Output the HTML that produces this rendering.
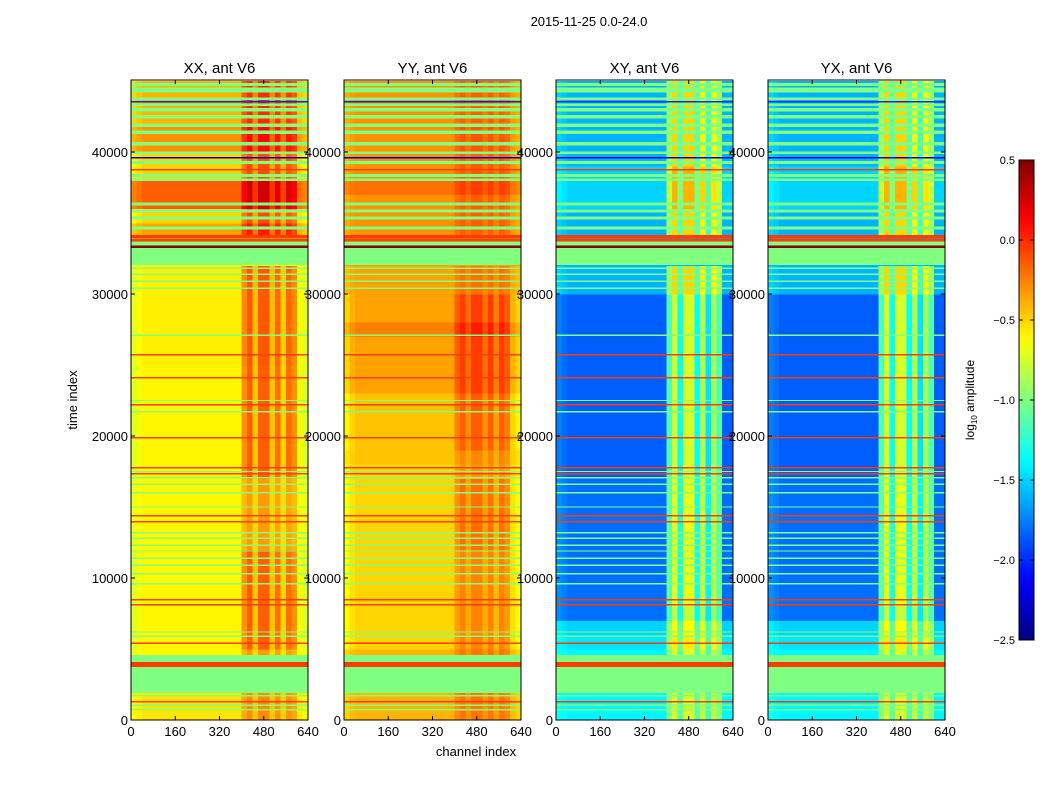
<!DOCTYPE html>
<html><head><meta charset="utf-8"><style>
body{margin:0;background:#fff;}
svg{display:block;font-family:"Liberation Sans","DejaVu Sans",sans-serif;}
</style></head><body>
<svg id="fig" width="1050" height="800" viewBox="0 0 1050 800" xmlns="http://www.w3.org/2000/svg">
<rect x="0" y="0" width="1050" height="800" fill="#fff"/>
<text x="589" y="26" font-size="13" text-anchor="middle">2015-11-25 0.0-24.0</text>
<text transform="translate(77,400) rotate(-90)" font-size="13" text-anchor="middle">time index</text>
<text x="476" y="756" font-size="13" text-anchor="middle">channel index</text>
<g id="panels"></g>
<g id="cbar"></g>
</svg>
<script>
// ---- data ----
const panelTitles = ["XX, ant V6", "YY, ant V6", "XY, ant V6", "YX, ant V6"];
const timeTicks = [0, 10000, 20000, 30000, 40000];
const chanTicks = [0, 160, 320, 480, 640];
const cbarTicks = [0.5, 0.0, -0.5, -1.0, -1.5, -2.0, -2.5];
const cbarLabels = ["0.5", "0.0", "\u22120.5", "\u22121.0", "\u22121.5", "\u22122.0", "\u22122.5"];
const timeBinSize = 1000;
const chanBinSize = 20;
const xxBase = [-0.55,-0.55,-0.6,-0.6,-0.6,-0.6,-0.6,-0.6,-0.6,-0.6,-0.6,-0.6,-0.6,-0.6,-0.6,-0.6,-0.6,-0.6,-0.6,-0.6,-0.6,-0.6,-0.6,-0.6,-0.6,-0.58,-0.58,-0.58,-0.58,-0.58,-0.58,-0.58,-0.6,-0.6,-0.35,-0.5,-0.15,-0.15,-0.5,-0.5,-0.3,-0.3,-0.4,-0.4,-0.4];
const yyBase = [-0.4,-0.4,-0.4,-0.4,-0.4,-0.5,-0.5,-0.5,-0.5,-0.5,-0.5,-0.5,-0.5,-0.5,-0.5,-0.5,-0.5,-0.5,-0.45,-0.45,-0.45,-0.45,-0.45,-0.35,-0.35,-0.35,-0.35,-0.25,-0.35,-0.35,-0.35,-0.35,-0.35,-0.35,-0.3,-0.3,-0.3,-0.2,-0.3,-0.3,-0.3,-0.3,-0.3,-0.3,-0.3];
const xyBase = [-1.4,-1.4,-1.4,-1.4,-1.4,-1.45,-1.5,-1.8,-1.8,-1.8,-1.8,-1.8,-1.8,-1.8,-1.8,-1.8,-1.8,-1.85,-1.85,-1.85,-1.85,-1.85,-1.85,-1.85,-1.85,-1.85,-1.85,-1.85,-1.85,-1.85,-1.6,-1.6,-1.6,-1.6,-1.6,-1.6,-1.5,-1.5,-1.5,-1.6,-1.6,-1.6,-1.6,-1.6,-1.6];
const yxBase = [-1.4,-1.4,-1.4,-1.4,-1.4,-1.45,-1.5,-1.8,-1.8,-1.8,-1.8,-1.8,-1.8,-1.8,-1.8,-1.8,-1.8,-1.85,-1.85,-1.85,-1.85,-1.85,-1.85,-1.85,-1.85,-1.85,-1.85,-1.85,-1.85,-1.85,-1.6,-1.6,-1.6,-1.6,-1.6,-1.6,-1.5,-1.5,-1.5,-1.6,-1.6,-1.6,-1.6,-1.6,-1.6];
const xxAmp = [0.6,0.6,0.6,0.6,0.6,1,1,1,1,1,1,1,0.6,0.6,0.6,0.6,0.6,1,1,1,1,1,1,1,1,1,1,1,1,1,1,1,0,0,0.9,0.9,0.9,0.9,0.9,0.9,0.9,0.9,0.9,0.9,0.9];
const yyAmp = [0.6,0.6,0.6,0.6,0.6,0.8,0.8,0.8,0.8,0.8,0.8,0.8,1,1,1,1,1,0.6,0.6,1,1,1,1,1,1,1,1,1,1,1,0.5,0.5,0,0,0.5,0.5,0.5,0.5,0.5,0.5,0.6,0.6,0.5,0.5,0.5];
const xyAmp = [0.6,0.6,0.6,0.6,0.6,0.8,0.8,0.9,1,1,1,1,1,1,1,1,1,1,1,1,1,1,1,1,1,1,1,1,1,1,1,1,0,0,1,1,1,1,1,1,1,1,1,1,1];
const yxAmp = [0.6,0.6,0.6,0.6,0.6,0.8,0.8,0.9,1,1,1,1,1,1,1,1,1,1,1,1,1,1,1,1,1,1,1,1,1,1,1,1,0,0,1,1,1,1,1,1,1,1,1,1,1];
const xxChan = [-0.12,-0.05,0,0,0,0,0,0,0,0,0,0,0,0,0,0,0,0,0,0,0.3,0.45,0.15,0.45,0.45,0.15,0.4,0.1,0.4,0.3,-0.05,-0.12];
const yyChan = [-0.15,-0.05,0,0,0,0,0,0,0,0,0,0,0,0,0,0,0,0,0,0,0.2,0.3,0.15,0.3,0.3,0.15,0.3,0.1,0.3,0.2,-0.05,-0.15];
const xyChan = [0.1,0.05,0,0,0,0,0,0,0,0,0,0,0,0,0,0,0,0,0,0,0.7,1.1,0.5,1.1,1.1,0.5,1.0,0.4,0.95,0.7,0,0];
const yxChan = [0.1,0.05,0,0,0,0,0,0,0,0,0,0,0,0,0,0,0,0,0,0,0.7,1.1,0.5,1.1,1.1,0.5,1.0,0.4,0.95,0.7,0,0];
const flagStart = [1900,3730,4080,32050,33250,33400,33700,33950, 1230,5350,8060,8410,13900,14330,17280,17710,19820,22140,24040,25660,38700, 680,980,1650,5850,6150,9550,10250,10850,11350,11850,12250,12750,13150,14950,15950,16550,17000,17450,21650,22450,27050,30350,30850,31350,31750,34550,35250,35750,36250,37950,38250,39150,39850,40450,41250,41750,42350,42850,43250,43650,44200,44650, 39540,43480];
const flagEnd   = [3730,4080,4580,33250,33400,33700,33900,34150, 1350,5470,8180,8530,14020,14450,17400,17830,19940,22260,24160,25780,38820, 780,1080,1750,5950,6250,9650,10350,10950,11450,11950,12350,12850,13250,15050,16050,16650,17100,17550,21750,22550,27150,30450,30950,31450,31850,34750,35450,35950,36450,38150,38450,39350,40050,40700,41500,42000,42600,43100,43400,43850,44550,44850, 39660,43600];
const flagValue = [-1.0,-0.05,-1.0,-1.0,0.45,-1.0,-0.05,-0.05, -0.05,-0.05,-0.05,-0.05,-0.05,-0.05,-0.05,-0.05,-0.05,-0.05,-0.05,-0.05,-0.05, -1,-1,-1,-1,-1,-1,-1,-1,-1,-1,-1,-1,-1,-1,-1,-1,-1,-1,-1,-1,-1,-1,-1,-1,-1,-1,-1,-1,-1,-1,-1,-1,-1,-1,-1,-1,-1,-1,-1,-1,-1,-1, -2.2,-2.0];

const panelBase = [xxBase, yyBase, xyBase, yxBase];
const panelAmp = [xxAmp, yyAmp, xyAmp, yxAmp];
const panelChan = [xxChan, yyChan, xyChan, yxChan];
const panelNames = ["xx","yy","xy","yx"];

const NS = "http://www.w3.org/2000/svg";
const panelX = [131, 344, 556, 768];
const panelW = 177, plotTop = 80, plotBottom = 720;
const tMax = 45070, cMax = 640, vMin = -2.5, vMax = 0.5;
function yScale(t){ return plotBottom - (t / tMax) * (plotBottom - plotTop); }
function xScale(px, c){ return px + (c / cMax) * panelW; }
function clamp01(v){ return Math.max(0, Math.min(1, v)); }
function jet(v){
  const x = clamp01((v - vMin) / (vMax - vMin));
  const r = clamp01(1.5 - Math.abs(4*x - 3)), g = clamp01(1.5 - Math.abs(4*x - 2)), b = clamp01(1.5 - Math.abs(4*x - 1));
  return "rgb(" + Math.round(r*255) + "," + Math.round(g*255) + "," + Math.round(b*255) + ")";
}
function mk(tag, attrs, parent){
  const e = document.createElementNS(NS, tag);
  for (const k in attrs) e.setAttribute(k, attrs[k]);
  parent.appendChild(e); return e;
}
const panelsG = document.getElementById("panels");
for (let p = 0; p < 4; p++){
  const px = panelX[p];
  const g = mk("g", {}, panelsG);
  
  
  const cells = mk("g", {"shape-rendering":"crispEdges"}, g);
  const base = panelBase[p], amp = panelAmp[p], chan = panelChan[p];
  for (let i = 0; i < base.length; i++){
    const t0 = i * timeBinSize, t1 = Math.min(tMax, (i + 1) * timeBinSize);
    const y0 = yScale(t1), y1 = yScale(t0);
    for (let j = 0; j < chan.length; j++){
      const c0 = j * chanBinSize, c1 = (j + 1) * chanBinSize;
      const x0 = xScale(px, c0), x1 = xScale(px, c1);
      const r = mk("rect", {x:x0.toFixed(2), y:y0.toFixed(2), width:(x1-x0+0.3).toFixed(2), height:(y1-y0+0.3).toFixed(2), fill:jet(base[i] + chan[j]*amp[i])}, cells);
      
      
    }
  }
  for (let k = 0; k < flagStart.length; k++){
    const y0 = yScale(flagEnd[k]), y1 = yScale(flagStart[k]);
    const r = mk("rect", {x:px, y:y0.toFixed(2), width:panelW, height:Math.max(1, y1-y0).toFixed(2), fill:jet(flagValue[k])}, cells);
    
    
  }
  const fr = mk("rect", {x:px, y:plotTop, width:panelW, height:plotBottom-plotTop, fill:"none", stroke:"#000", "stroke-width":1}, g);
  
  
  const tt = mk("text", {x:px + panelW/2, y:plotTop - 7, "font-size":15, "text-anchor":"middle"}, g);
  tt.textContent = panelTitles[p];
  
  
  for (const t of timeTicks){
    const y = yScale(t);
    mk("line", {x1:px, x2:px+4, y1:y, y2:y, stroke:"#000"}, g);
    mk("line", {x1:px+panelW-4, x2:px+panelW, y1:y, y2:y, stroke:"#000"}, g);
    const lb = mk("text", {x:px - 3, y:y + 5, "font-size":13, "text-anchor":"end"}, g);
    lb.textContent = String(t);
    
    
  }
  for (const c of chanTicks){
    const x = xScale(px, c);
    mk("line", {x1:x, x2:x, y1:plotBottom, y2:plotBottom-4, stroke:"#000"}, g);
    mk("line", {x1:x, x2:x, y1:plotTop, y2:plotTop+4, stroke:"#000"}, g);
    const lb = mk("text", {x:x, y:plotBottom + 16, "font-size":13, "text-anchor":"middle"}, g);
    lb.textContent = String(c);
    
    
  }
}
const cb = document.getElementById("cbar");
const cbX = 1019, cbW = 15, cbTop = 160, cbBot = 640;
function cbY(v){ return cbBot - (v - vMin) / (vMax - vMin) * (cbBot - cbTop); }
const defs = mk("defs", {}, cb);
const grad = mk("linearGradient", {id:"jetg", x1:0, y1:1, x2:0, y2:0}, defs);
for (let s = 0; s <= 30; s++){
  mk("stop", {offset:(s/30), "stop-color":jet(vMin + (vMax - vMin) * s / 30)}, grad);
}
mk("rect", {x:cbX, y:cbTop, width:cbW, height:cbBot-cbTop, fill:"url(#jetg)", stroke:"#000", "stroke-width":1}, cb);
for (let i = 0; i < cbarTicks.length; i++){
  const y = cbY(cbarTicks[i]);
  mk("line", {x1:cbX, x2:cbX+4, y1:y, y2:y, stroke:"#000"}, cb);
  mk("line", {x1:cbX+cbW-4, x2:cbX+cbW, y1:y, y2:y, stroke:"#000"}, cb);
  const lb = mk("text", {x:cbX - 4, y:y + 4, "font-size":11, "text-anchor":"end"}, cb);
  lb.textContent = cbarLabels[i];
  
  
}
const cl = mk("text", {transform:"translate(974,400) rotate(-90)", "font-size":12, "text-anchor":"middle"}, cb);


cl.innerHTML = 'log<tspan font-size="8" dy="3">10</tspan><tspan dy="-3"> amplitude</tspan>';
</script>
</body></html>
